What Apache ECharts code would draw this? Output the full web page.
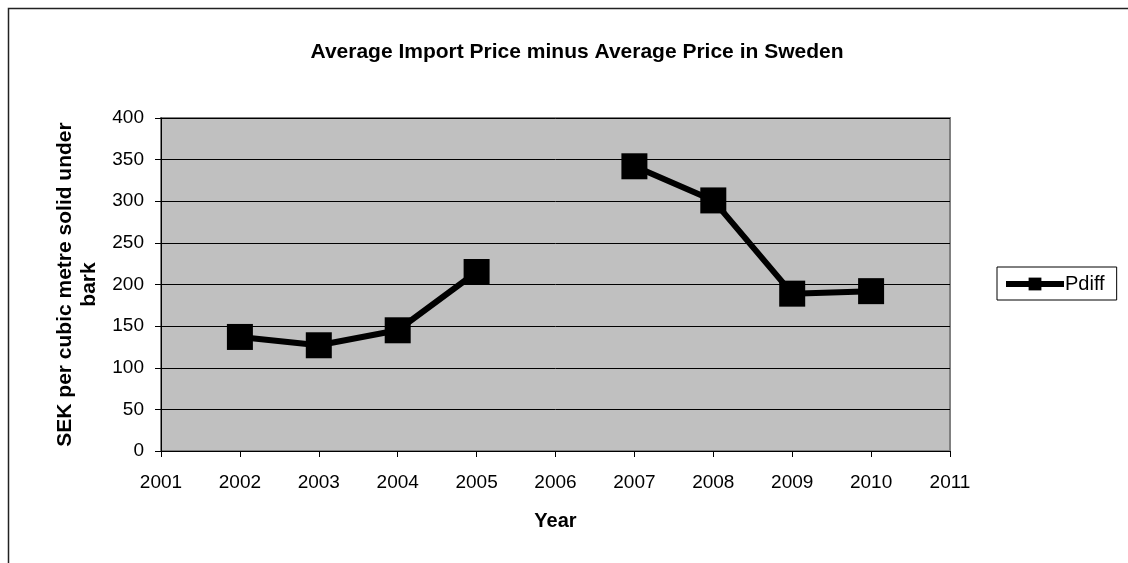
<!DOCTYPE html>
<html lang="en">
<head>
<meta charset="utf-8">
<script src="https://cdn.jsdelivr.net/npm/echarts@6/dist/echarts.min.js"></script>
<style>
    html, body { margin: 0; padding: 0; background: #fff; }
    #chart { width: 1128px; height: 563px; }
</style>
</head>
<body>
<div id="chart"></div>
<script>
    // 数据
    var years = [2002, 2003, 2004, 2005, 2006, 2007, 2008, 2009, 2010];
    var pdiff = [137, 127, 145, 215, null, 342, 301, 189, 192];   // 2006 没有数据
    var yTicks = [0, 50, 100, 150, 200, 250, 300, 350, 400];

    var chart = echarts.init(document.getElementById('chart'));

    var seriesData = [];
    for (var i = 0; i < years.length; i++) {
        seriesData.push([years[i], pdiff[i] == null ? '-' : pdiff[i]]);
    }

    var font = 'Liberation Sans, Arial, sans-serif';

    var option = {
        backgroundColor: '#fff',
        animation: false,
        textStyle: { fontFamily: font, color: '#000' },
        title: {
            text: 'Average Import Price minus Average Price in Sweden',
            left: 572,
            top: 37,
            textAlign: 'center',
            textStyle: { fontSize: 21, fontWeight: 'bold', color: '#000', fontFamily: font }
        },
        graphic: [
            {
                type: 'rect',
                shape: { x: 8.5, y: 8.5, width: 1140, height: 600 },
                style: { fill: null, stroke: '#222', lineWidth: 1.5 },
                silent: true,
                z: -1
            }
        ],
        legend: {
            left: 997,
            top: 267,
            orient: 'vertical',
            padding: [7, 12, 6, 6],
            borderColor: '#000',
            borderWidth: 1,
            borderRadius: 0,
            itemWidth: 58,
            itemHeight: 16,
            itemGap: 4,
            lineStyle: { width: 6, color: '#000' },
            textStyle: { fontSize: 20, color: '#000', fontFamily: font, padding: [0, 0, 0, -4] },
            data: ['Pdiff']
        },
        grid: {
            left: 161,
            top: 118,
            width: 789,
            height: 333,
            show: true,
            backgroundColor: '#c0c0c0',
            borderColor: '#808080',
            borderWidth: 2
        },
        xAxis: {
            type: 'value',
            min: 2001,
            max: 2011,
            interval: 1,
            name: 'Year',
            nameLocation: 'middle',
            nameGap: 60,
            nameTextStyle: { fontSize: 20, fontWeight: 'bold', color: '#000' },
            axisLine: { show: true, onZero: false, lineStyle: { color: '#000', width: 1 } },
            axisTick: { show: true, length: 6, lineStyle: { color: '#000' } },
            axisLabel: { fontSize: 19, color: '#000', margin: 22, formatter: function (v) { return String(v); } },
            splitLine: { show: false }
        },
        yAxis: {
            type: 'value',
            min: 0,
            max: 400,
            interval: 50,
            name: 'SEK per cubic metre solid under\nbark',
            nameLocation: 'middle',
            nameGap: 52,
            nameRotate: 90,
            nameTextStyle: { fontSize: 21, fontWeight: 'bold', color: '#000', lineHeight: 24 },
            axisLine: { show: true, lineStyle: { color: '#000', width: 1 } },
            axisTick: { show: true, length: 6, lineStyle: { color: '#000' } },
            axisLabel: {
                fontSize: 19, color: '#000', margin: 17,
                formatter: function (v) { return yTicks.indexOf(v) >= 0 ? String(v) : ''; }
            },
            splitLine: { show: true, lineStyle: { color: '#000', width: 1 } }
        },
        series: [
            {
                name: 'Pdiff',
                type: 'line',
                data: seriesData,
                connectNulls: false,
                symbol: 'rect',
                symbolSize: 26,
                itemStyle: { color: '#000' },
                lineStyle: { color: '#000', width: 6 }
            }
        ]
    };

    chart.setOption(option);
</script>
</body>
</html>
